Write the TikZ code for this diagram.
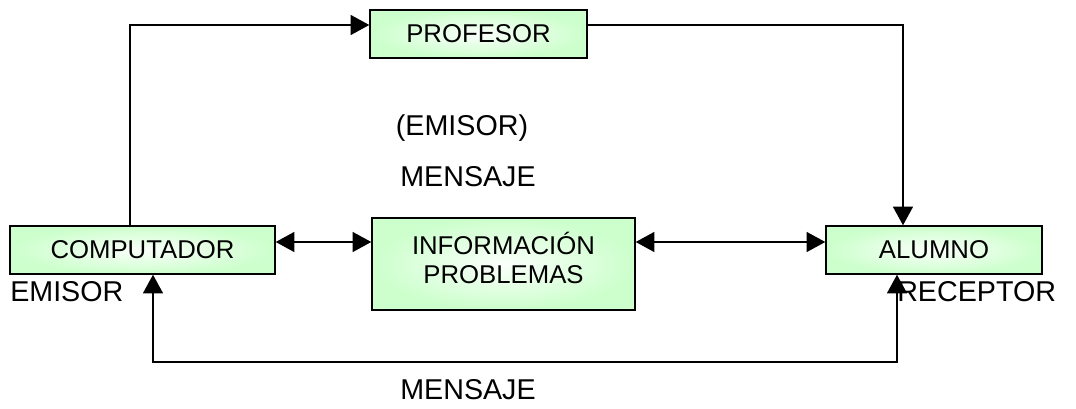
\documentclass[tikz,border=0pt]{standalone}
\usepackage{fontspec}
\setmainfont{Liberation Sans}
\usetikzlibrary{arrows.meta,positioning}
\definecolor{boxgreen}{RGB}{204,255,204}
\tikzset{
    box/.style ={
        shape=rectangle,
        draw=black,
        line width=1.1pt,
        inner color=white!92!boxgreen,
        outer color=boxgreen,
        minimum height=36pt,
        font=\fontsize{19.3}{21.5}\selectfont
    },
    label/.style ={
        inner sep=0pt,
        font=\fontsize{21.5}{24}\selectfont
    },
    link/.style ={
        line width=1.1pt,
        -{Triangle[length=14pt,width=15pt]}
    },
    twoway/.style ={
        line width=1.1pt,
        {Triangle[length=14pt,width=15pt]}-{Triangle[length=14pt,width=15pt]}
    }
}

\begin{document}
\begin{tikzpicture}[x=0.75pt,y=-0.75pt]
    \useasboundingbox (0,0) rectangle (1076,409);
    \node[box,minimum width=162.75pt] (profesor) at(478.5,34) {PROFESOR};
    \node[box,minimum width=198.75pt] (computador) at(142.5,250) {COMPUTADOR};
    \node[box,minimum width=197.25pt,minimum height=69pt,align=center,text depth=9pt] (info) at(503.5,264) {INFORMACIÓN\\PROBLEMAS};
    \node[box,minimum width=162pt] (alumno) at(934,250) {ALUMNO};
    \node[label] (emisor2) at(462,128) {(EMISOR)};
    \node[label] (mensaje1) at(468,177) {MENSAJE};
    \node[label,anchor=west] (emisor) at(10,292) {EMISOR};
    \node[label,anchor=west] (receptor) at(897,292) {RECEPTOR};
    \node[label] (mensaje2) at(468,390) {MENSAJE};
    \coordinate (tl) at(130,25);
    \coordinate (tr) at(903,25);
    \coordinate (mid) at(0,242);
    \coordinate (bl) at(153,362);
    \coordinate (br) at(897,362);
    \draw[link] (computador.north -| tl) -- (tl) -- (profesor.west |- tl);
    \draw[link] (profesor.east |- tr) -- (tr) -- (alumno.north -| tr);
    \draw[twoway] (computador.east |- mid) -- (info.west |- mid);
    \draw[twoway] (info.east |- mid) -- (alumno.west |- mid);
    \draw[twoway] (computador.south -| bl) -- (bl) -- (br) -- (alumno.south -| br);
\end{tikzpicture}
\end{document}
